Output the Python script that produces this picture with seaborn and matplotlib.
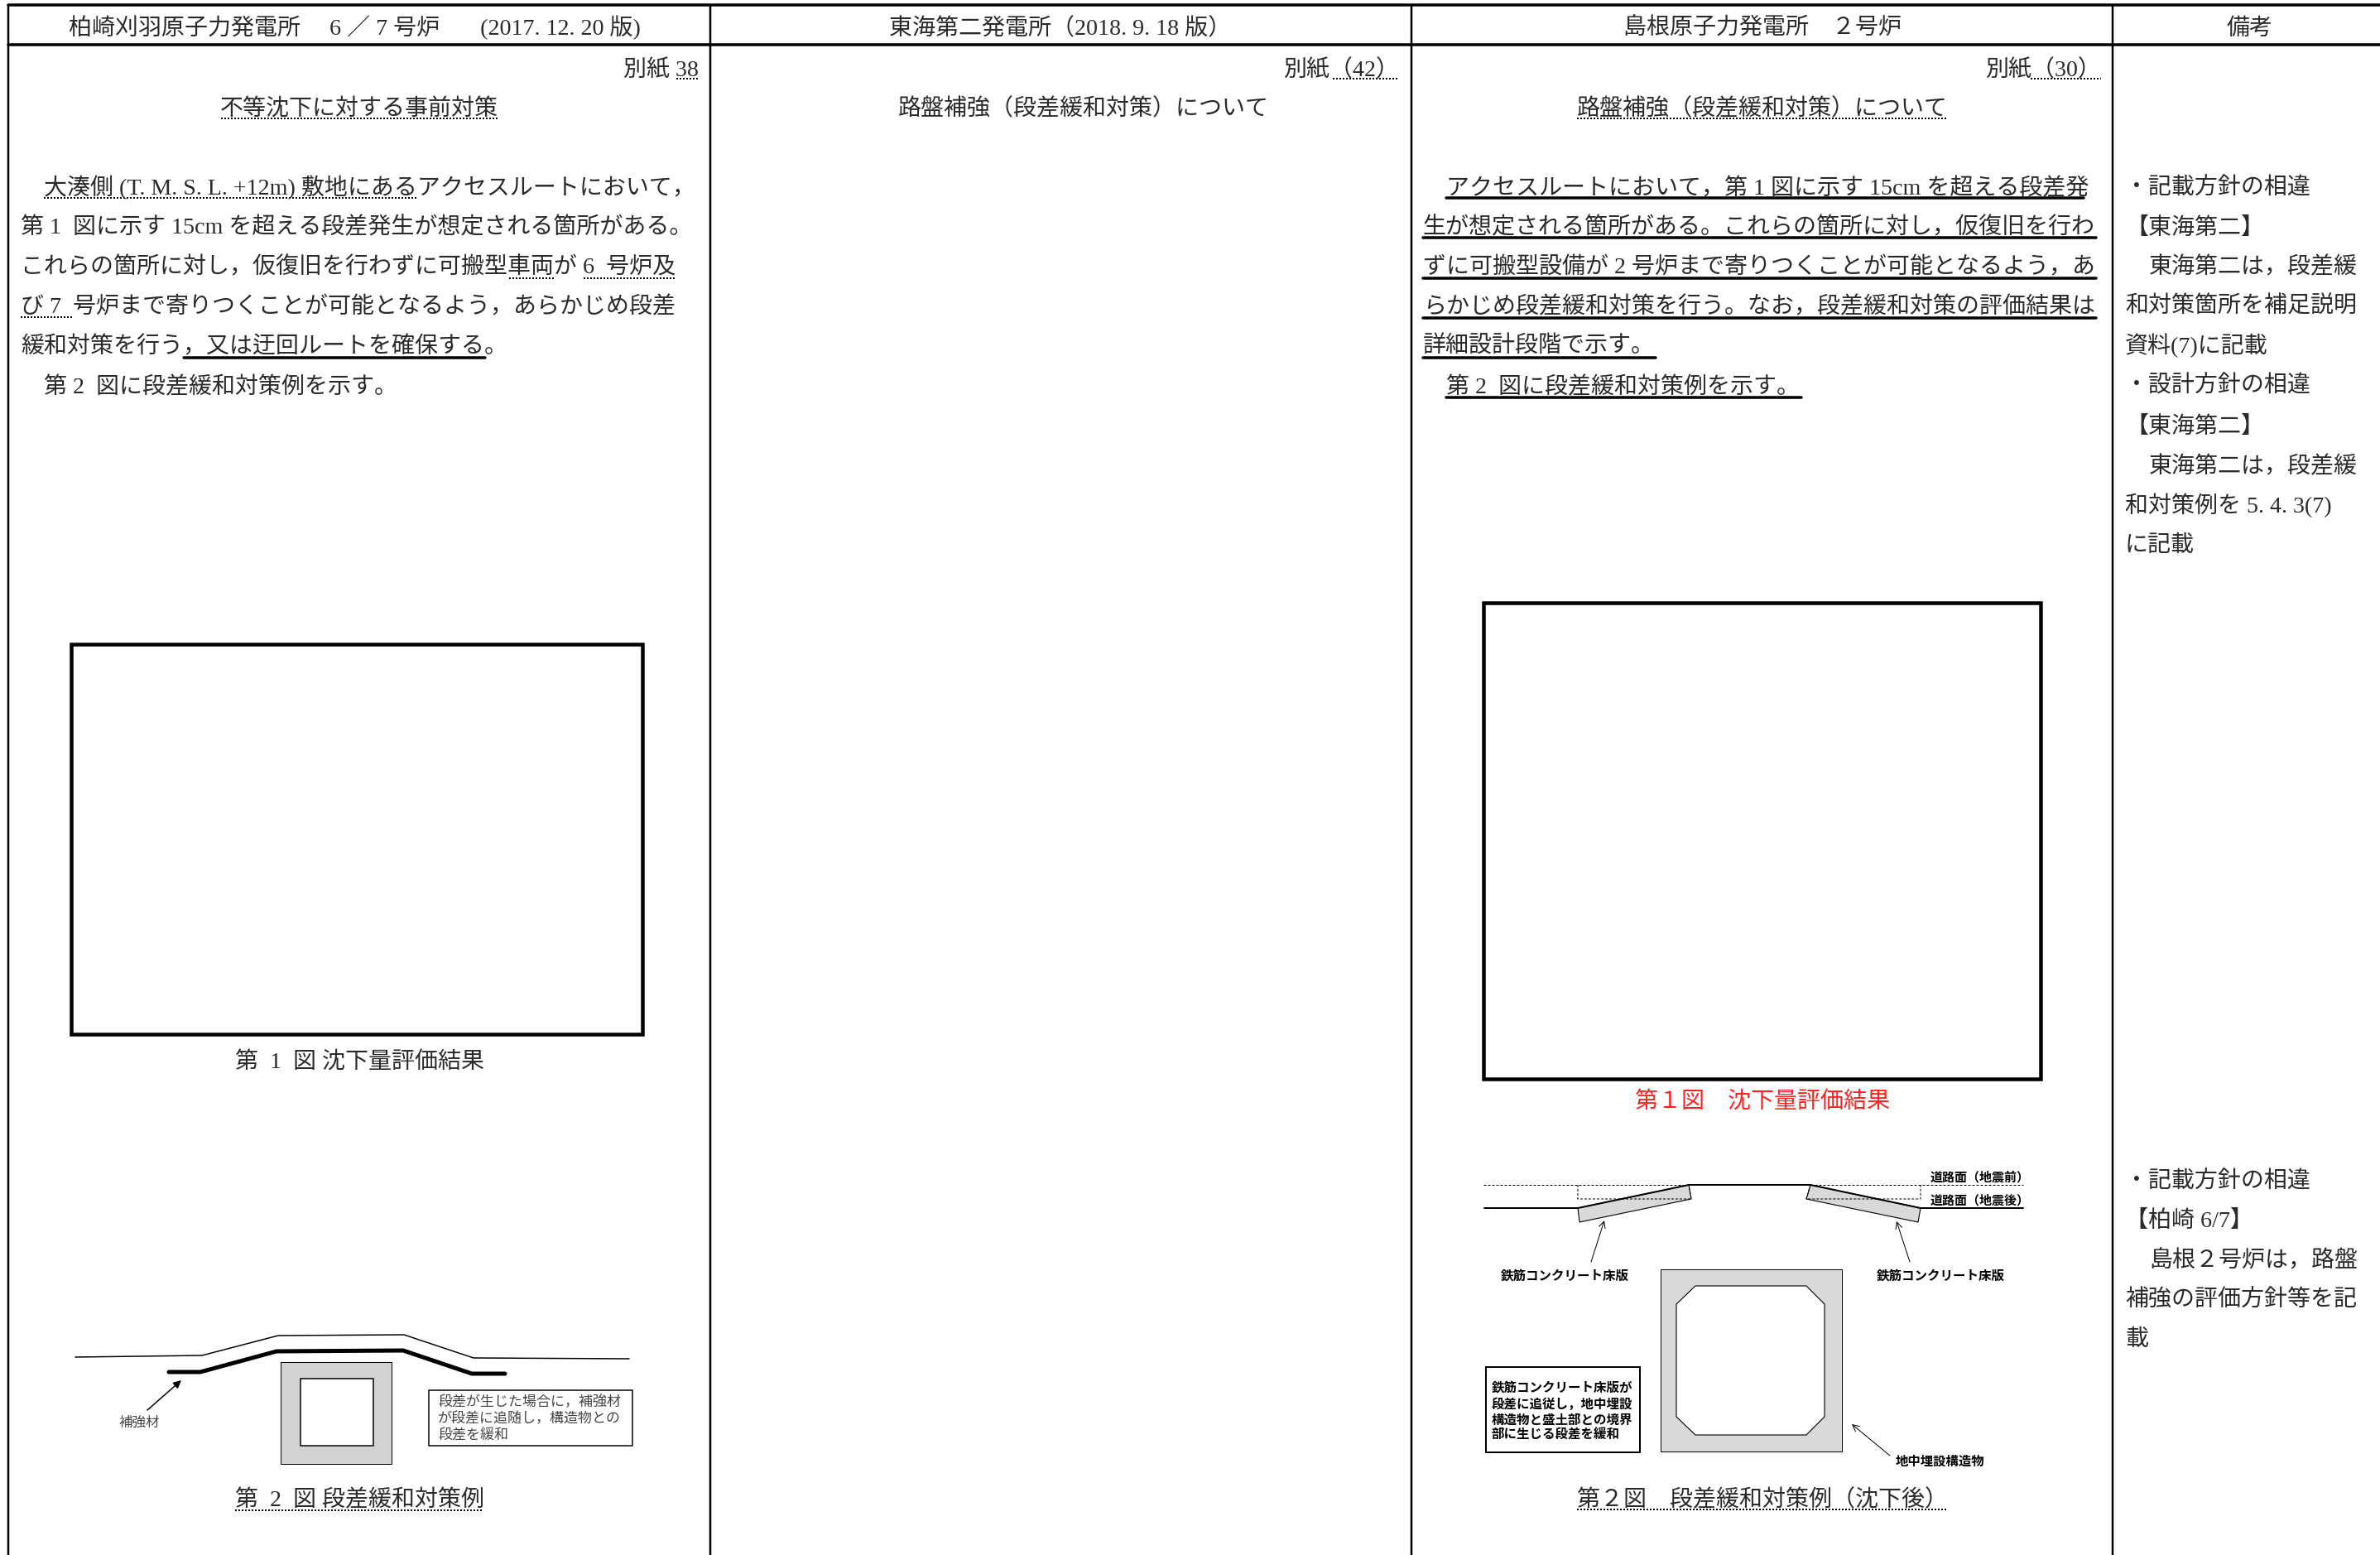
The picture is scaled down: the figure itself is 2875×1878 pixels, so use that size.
import matplotlib
matplotlib.use('Agg')
import matplotlib.pyplot as plt
import seaborn as sns

OUTPUT_IMAGE = 'out.png'
FONT = ['Liberation Serif', 'Noto Sans CJK JP', 'DejaVu Sans']
INK = '#2a2a2a'

# table frame, in page pixels
COLUMN_X = [10, 858, 1705, 2552]
TOP_Y = 6
HEADER_Y = 54
PAGE_W = 2875
PAGE_H = 1878

HEADERS = ['柏崎刈羽原子力発電所\u3000 6 ／ 7 号炉\u3000\u2002 (2017. 12. 20 版)',
           '東海第二発電所（2018. 9. 18 版）',
           '島根原子力発電所　２号炉',
           '備考']
HEADER_CX = [428, 1281, 2129, 2718]

SHEET_LABELS = ['別紙 38', '別紙（42）', '別紙（30）']
SHEET_RIGHT = [844, 1690, 2538]
TITLES = ['不等沈下に対する事前対策', '路盤補強（段差緩和対策）について', '路盤補強（段差緩和対策）について']
TITLE_CX = [434, 1309, 2129]

BODY_Y = [225, 272, 320, 368, 416, 465]
LEFT_BODY = ['大湊側 (T. M. S. L. +12m) 敷地にあるアクセスルートにおいて，',
             '第 1\u2002図に示す 15cm を超える段差発生が想定される箇所がある。',
             'これらの箇所に対し，仮復旧を行わずに可搬型車両が 6\u2002号炉及',
             'び 7\u2002号炉まで寄りつくことが可能となるよう，あらかじめ段差',
             '緩和対策を行う，又は迂回ルートを確保する。',
             '第 2\u2002図に段差緩和対策例を示す。']
LEFT_BODY_X = [53, 25, 25, 25, 25, 53]
RIGHT_BODY = ['アクセスルートにおいて，第 1 図に示す 15cm を超える段差発',
              '生が想定される箇所がある。これらの箇所に対し，仮復旧を行わ',
              'ずに可搬型設備が 2 号炉まで寄りつくことが可能となるよう，あ',
              'らかじめ段差緩和対策を行う。なお，段差緩和対策の評価結果は',
              '詳細設計段階で示す。',
              '第 2\u2002図に段差緩和対策例を示す。']
RIGHT_BODY_X = [1747, 1719, 1719, 1719, 1719, 1747]

NOTES = ['・記載方針の相違', '【東海第二】', '東海第二は，段差緩', '和対策箇所を補足説明', '資料(7)に記載',
         '・設計方針の相違', '【東海第二】', '東海第二は，段差緩', '和対策例を 5. 4. 3(7)', 'に記載',
         '・記載方針の相違', '【柏崎 6/7】', '島根２号炉は，路盤', '補強の評価方針等を記', '載']
NOTES_X = [2567, 2567, 2596, 2567, 2567, 2567, 2567, 2596, 2567, 2567, 2567, 2567, 2596, 2567, 2567]
NOTES_Y = [225, 273, 320, 368, 416, 464, 513, 561, 609, 656, 1425, 1472, 1520, 1568, 1615]

# x0, x1, y
SOLID_RULES = [(222, 586, 432), (1747, 2517, 239), (1719, 2532, 287), (1719, 2532, 336),
               (1719, 2532, 384), (1719, 2000, 432), (1747, 2176, 480)]
WAVE_RULES = [(817, 844, 95), (267, 602, 143), (53, 503, 239), (615, 670, 336), (705, 817, 336),
              (25, 87, 383), (284, 584, 1824), (1610, 1690, 95), (2453, 2538, 95),
              (1905, 2352, 143), (1905, 2352, 1823)]

# blank masked frames
FRAME_X = [[86, 776], [1792, 2465]]
FRAME_Y = [[778, 1249], [728, 1303]]
CAPTIONS = ['第\u20021\u2002図 沈下量評価結果', '第１図　沈下量評価結果', '第\u20022\u2002図 段差緩和対策例', '第２図　段差緩和対策例（沈下後）']
CAPTION_CX = [434, 2129, 434, 2129]
CAPTION_Y = [1281, 1329, 1809, 1809]
CAPTION_COLOR = [INK, '#ff2020', INK, INK]

# left sketch
ROAD_X = [91, 244, 336, 488, 572, 760]
ROAD_Y = [1639, 1637, 1613, 1612, 1640, 1641]
MAT_X = [204, 242, 334, 487, 570, 610]
MAT_Y = [1657, 1657, 1632, 1631, 1659, 1659]
CULVERT_X = [339, 473]
CULVERT_Y = [1645, 1768]
CULVERT_IN_X = [363, 451]
CULVERT_IN_Y = [1665, 1746]
NOTE_BOX_X = [518, 764]
NOTE_BOX_Y = [1679, 1746]
NOTE_LINES = ['段差が生じた場合に，補強材', 'が段差に追随し，構造物との', '段差を緩和']
NOTE_LINE_Y = [1692, 1712, 1731]

# right sketch
BEFORE_X = [1792, 2040, 2187, 2444]
BEFORE_Y = [1431, 1431, 1431, 1431]
AFTER_X = [1793, 1906, 2040, 2187, 2320, 2444]
AFTER_Y = [1459, 1459, 1431, 1431, 1459, 1459]
SLAB_L_X = [1906, 2040, 2043, 1908]
SLAB_L_Y = [1459, 1431, 1448, 1476]
SLAB_R_X = [2187, 2320, 2317, 2182]
SLAB_R_Y = [1431, 1459, 1476, 1448]
OLD_L_X = [1906, 1906, 2043, 2040]
OLD_L_Y = [1431, 1448, 1448, 1431]
OLD_R_X = [2187, 2182, 2320, 2320]
OLD_R_Y = [1431, 1448, 1448, 1431]
BOX_X = [2006, 2225]
BOX_Y = [1533, 1753]
HOLE_X = [2048, 2182, 2204, 2204, 2182, 2048, 2025, 2025]
HOLE_Y = [1553, 1553, 1575, 1711, 1733, 1733, 1711, 1575]
SLAB_NOTE_X = [1795, 1981]
SLAB_NOTE_Y = [1651, 1754]
SLAB_NOTE = ['鉄筋コンクリート床版が', '段差に追従し，地中埋設', '構造物と盛土部との境界', '部に生じる段差を緩和']
SLAB_NOTE_LINE_Y = [1675, 1695, 1714, 1732]


def put(ax, text, x, y, px=28, ha='left', color=INK, weight='normal'):
    # y is the visual centre of the line, text sits on its baseline
    ax.text(x, y + 0.36 * px, text, fontsize=px * 0.72, ha=ha, va='baseline',
            color=color, family=FONT, fontweight=weight)


def line(ax, xs, ys, width=1.0, color='black', style='-'):
    sns.lineplot(x=xs, y=ys, ax=ax, color=color, linewidth=width * 0.72, linestyle=style,
                 sort=False, estimator=None, legend=False)


def rect(ax, xs, ys, face='none', edge='black', width=1.0):
    ax.fill([xs[0], xs[1], xs[1], xs[0]], [ys[0], ys[0], ys[1], ys[1]],
            facecolor=face, edgecolor=edge, linewidth=width * 0.72)


def arrow(ax, start, end, width=1.0, head='->'):
    ax.annotate('', xy=end, xytext=start,
                arrowprops=dict(arrowstyle=head, color='black', lw=width * 0.72,
                                shrinkA=0, shrinkB=0, mutation_scale=14))


def draw_page():
    sns.set_theme(style='white')
    plt.rcParams['font.family'] = FONT
    fig = plt.figure(figsize=(PAGE_W / 100, PAGE_H / 100), dpi=100)
    ax = fig.add_axes([0, 0, 1, 1])

    # table grid
    line(ax, [COLUMN_X[0], PAGE_W], [TOP_Y, TOP_Y], 3.5)
    line(ax, [COLUMN_X[0], PAGE_W], [HEADER_Y, HEADER_Y], 3.5)
    for x in COLUMN_X:
        line(ax, [x, x], [TOP_Y, PAGE_H], 2.5)

    for text, cx in zip(HEADERS, HEADER_CX):
        put(ax, text, cx, 32, ha='center')
    for text, right in zip(SHEET_LABELS, SHEET_RIGHT):
        put(ax, text, right, 82, ha='right')
    for text, cx in zip(TITLES, TITLE_CX):
        put(ax, text, cx, 129, ha='center')

    for text, x, y in zip(LEFT_BODY, LEFT_BODY_X, BODY_Y):
        put(ax, text, x, y)
    for text, x, y in zip(RIGHT_BODY, RIGHT_BODY_X, BODY_Y):
        put(ax, text, x, y)
    for text, x, y in zip(NOTES, NOTES_X, NOTES_Y):
        put(ax, text, x, y)

    for x0, x1, y in SOLID_RULES:
        line(ax, [x0, x1], [y, y], 3.5)
    for x0, x1, y in WAVE_RULES:
        line(ax, [x0, x1], [y, y], 2, style=(0, (1, 1)))

    for xs, ys in zip(FRAME_X, FRAME_Y):
        rect(ax, xs, ys, width=4.5)
    for text, cx, y, color in zip(CAPTIONS, CAPTION_CX, CAPTION_Y, CAPTION_COLOR):
        put(ax, text, cx, y, ha='center', color=color)

    # left sketch
    rect(ax, CULVERT_X, CULVERT_Y, face='#d2d2d2', width=1)
    rect(ax, CULVERT_IN_X, CULVERT_IN_Y, face='white', width=1.5)
    line(ax, ROAD_X, ROAD_Y, 1.5)
    line(ax, MAT_X, MAT_Y, 5)
    arrow(ax, (178, 1703), (219, 1667), 1.5, '-|>')
    put(ax, '補強材', 168, 1717, px=16.5, ha='center', color='#444444')
    rect(ax, NOTE_BOX_X, NOTE_BOX_Y, face='white', width=1.5)
    for text, y in zip(NOTE_LINES, NOTE_LINE_Y):
        put(ax, text, 529, y, px=17, color='#444444')

    # right sketch
    ax.fill(SLAB_L_X, SLAB_L_Y, facecolor='#d9d9d9', edgecolor='black', linewidth=0.8)
    ax.fill(SLAB_R_X, SLAB_R_Y, facecolor='#d9d9d9', edgecolor='black', linewidth=0.8)
    line(ax, OLD_L_X, OLD_L_Y, 1, style=(0, (3, 2)))
    line(ax, OLD_R_X, OLD_R_Y, 1, style=(0, (3, 2)))
    line(ax, BEFORE_X[:2], BEFORE_Y[:2], 1, style=(0, (3, 2)))
    line(ax, BEFORE_X[2:], BEFORE_Y[2:], 1, style=(0, (3, 2)))
    line(ax, AFTER_X, AFTER_Y, 2)
    rect(ax, BOX_X, BOX_Y, face='#d9d9d9', width=1)
    ax.fill(HOLE_X, HOLE_Y, facecolor='white', edgecolor='black', linewidth=0.8)
    arrow(ax, (1922, 1524), (1938, 1474))
    arrow(ax, (2307, 1524), (2291, 1475))
    arrow(ax, (2283, 1758), (2237, 1720))
    put(ax, '鉄筋コンクリート床版', 1813, 1540, px=15.5, color='black', weight='bold')
    put(ax, '鉄筋コンクリート床版', 2267, 1540, px=15.5, color='black', weight='bold')
    put(ax, '道路面（地震前）', 2332, 1421, px=15, color='black', weight='bold')
    put(ax, '道路面（地震後）', 2332, 1449, px=15, color='black', weight='bold')
    put(ax, '地中埋設構造物', 2290, 1764, px=15.4, color='black', weight='bold')
    rect(ax, SLAB_NOTE_X, SLAB_NOTE_Y, face='white', width=2)
    for text, y in zip(SLAB_NOTE, SLAB_NOTE_LINE_Y):
        put(ax, text, 1802, y, px=15.5, color='black', weight='bold')

    ax.set_xlim(0, PAGE_W)
    ax.set_ylim(PAGE_H, 0)
    ax.set_axis_off()
    fig.savefig(OUTPUT_IMAGE, dpi=100, facecolor='white')


if __name__ == '__main__':
    draw_page()
